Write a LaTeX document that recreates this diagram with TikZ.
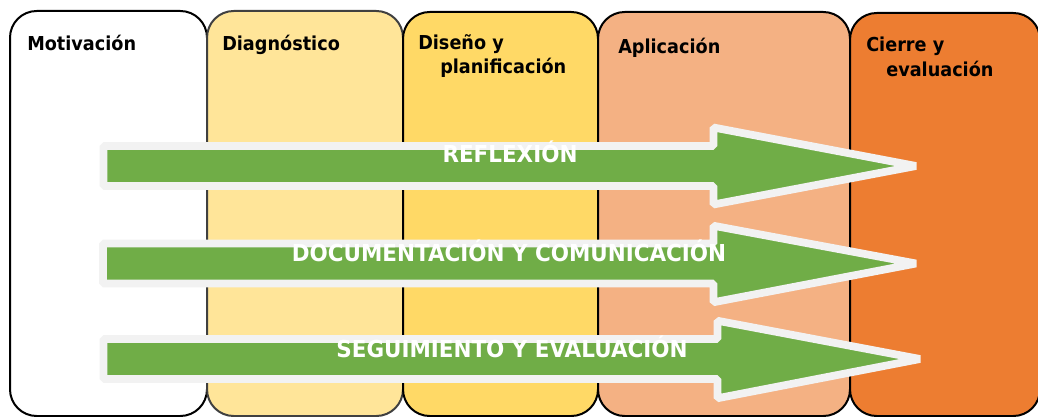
\documentclass[tikz,border=0pt]{standalone}
\usepackage{fontspec}
\setmainfont{DejaVu Sans}[FakeStretch=0.92]
\definecolor{diagfill}{HTML}{FFE599}
\definecolor{disefill}{HTML}{FFD966}
\definecolor{aplifill}{HTML}{F4B183}
\definecolor{cierfill}{HTML}{ED7D31}
\definecolor{arrowgreen}{HTML}{70AD47}
\definecolor{arrowline}{HTML}{F2F2F2}
\definecolor{darkline}{HTML}{404040}
\begin{document}
\begin{tikzpicture}[x=0.75pt,y=-0.75pt,
  phase/.style={draw=black, line width=1.5pt, rounded corners=20pt, anchor=north west, inner sep=0pt, outer sep=0pt},
  title/.style={anchor=base west, inner sep=0pt, font=\bfseries\fontsize{14.4}{17}\selectfont},
  flow/.style={fill=arrowgreen, draw=arrowline, line width=5.8pt, line join=bevel},
  flowlabel/.style={font=\bfseries\fontsize{17.5}{20}\selectfont, text=white, anchor=base, inner sep=0pt}]
\useasboundingbox (0,0) rectangle (1038,417);
% phases
\node[phase, fill=white, minimum width=147.75pt, minimum height=303.75pt] (b1) at (10,11) {};
\node[phase, draw=darkline, fill=diagfill, minimum width=147pt, minimum height=303.75pt] (b2) at (207,11) {};
\node[phase, fill=disefill, minimum width=146.25pt, minimum height=303pt] (b3) at (403,12) {};
\node[phase, fill=aplifill, minimum width=189pt, minimum height=303pt] (b4) at (598,12) {};
\node[phase, fill=cierfill, minimum width=142.5pt, minimum height=302.25pt] (b5) at (850,13) {};
% titles
\node[title] (t1) at (27,51) {Motivación};
\node[title] (t2) at (222,51) {Diagnóstico};
\node[title] (t3a) at (418,50) {Diseño y};
\node[title] (t3b) at (440,74) {planificación};
\node[title] (t4) at (618,54) {Aplicación};
\node[title] (t5a) at (866,52) {Cierre y};
\node[title] (t5b) at (886,77) {evaluación};
% arrows
\draw[flow] (103.5,146) -- (713.5,146) -- (713.5,127.5) -- (916,166) -- (713.5,204.5) -- (713.5,186) -- (103.5,186) -- cycle;
\draw[flow] (103,243.5) -- (713.5,243.5) -- (713.5,225.75) -- (916,263.5) -- (713.5,302.25) -- (713.5,283.5) -- (103,283.5) -- cycle;
\draw[flow] (103.5,339) -- (717.5,339) -- (717.5,320.75) -- (920,359) -- (717.5,398.25) -- (717.5,379) -- (103.5,379) -- cycle;
% labels
\node[flowlabel] (l1) at (510,163) {REFLEXIÓN};
\node[flowlabel] (l2) at (509,261) {DOCUMENTACIÓN Y COMUNICACIÓN};
\node[flowlabel] (l3) at (512,357) {SEGUIMIENTO Y EVALUACIÓN};
\end{tikzpicture}
\end{document}
